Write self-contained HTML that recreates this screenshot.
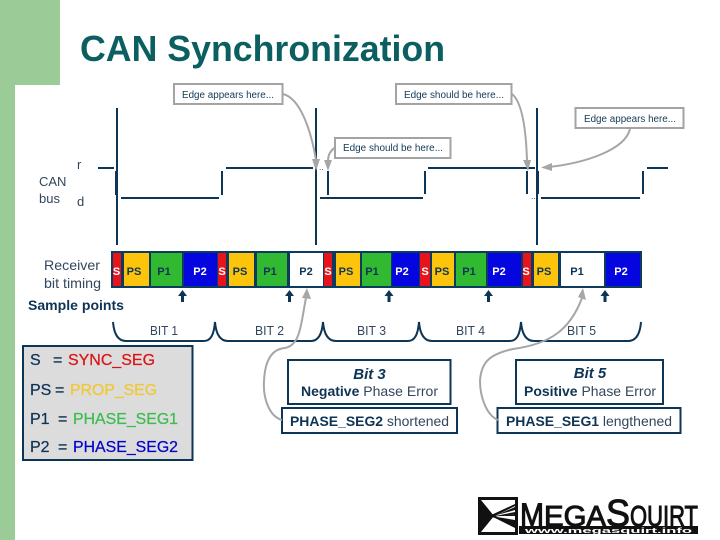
<!DOCTYPE html>
<html><head><meta charset="utf-8">
<style>
html,body{margin:0;padding:0;background:#fff}
svg{display:block}
text{font-family:"Liberation Sans",sans-serif;fill:#0e3455}
.g{fill:none;stroke:#a6a6a6;stroke-width:2}
.n{stroke:#0c3556;stroke-width:2;fill:none}
.c{fill:#fff;stroke:#a3a3a3;stroke-width:2}
.ct{font-size:10px;fill:#123a55}
.lab{font-size:13px;fill:#33475c}
.lab2{font-size:14px;fill:#33475c}
.seg{font-size:11px;font-weight:bold;text-anchor:middle;fill:#0e3455}
.bit{font-size:12.500px;fill:#33475c}
.lg{font-size:16px;stroke:currentColor;stroke-width:0.25}
.lo{fill:#111;stroke:#111;stroke-width:1}
</style></head><body>
<svg width="720" height="540" viewBox="0 0 720 540" xmlns="http://www.w3.org/2000/svg">
<rect x="0" y="0" width="60" height="85" fill="#9bcb97"/>
<rect x="0" y="85" width="15" height="455" fill="#9bcb97"/>
<text x="80" y="61" font-size="36" font-weight="bold" style="fill:#0b5f60" textLength="365" lengthAdjust="spacingAndGlyphs">CAN Synchronization</text>

<!-- waveform -->
<g class="n">
<path d="M117 108V245M316 108V245M537 108V245"/>
<path d="M98 168H114M226 168H313M428 168H535M647 168H668"/>
<path d="M121 198H219M320 198H423M541 198H640"/>
<path d="M116 171V195M222 171V195M316 171V195M328 171V195M425 171V194M527 171V194M538 171V194M643 171V194"/>
</g>
<text x="77" y="169" class="lab">r</text>
<text x="39" y="186" class="lab">CAN</text>
<text x="39" y="203" class="lab">bus</text>
<text x="77" y="206" class="lab">d</text>
<text x="319" y="170" font-size="8">..</text>
<text x="531" y="199" font-size="8">...</text>

<!-- callouts -->
<rect class="c" x="174" y="84" width="108.500" height="20"/>
<text x="182" y="98" class="ct" textLength="92" lengthAdjust="spacingAndGlyphs">Edge appears here...</text>
<rect class="c" x="396" y="84" width="115.500" height="20"/>
<text x="404" y="98" class="ct" textLength="100" lengthAdjust="spacingAndGlyphs">Edge should be here...</text>
<rect class="c" x="575.500" y="108" width="108" height="20"/>
<text x="584" y="122" class="ct" textLength="92" lengthAdjust="spacingAndGlyphs">Edge appears here...</text>
<rect class="c" x="335" y="138" width="115.500" height="20"/>
<text x="343" y="151" class="ct" textLength="100" lengthAdjust="spacingAndGlyphs">Edge should be here...</text>

<!-- gray arrows -->
<path class="g" d="M283 94C300 98 311 130 316 160"/>
<path fill="#a6a6a6" d="M316 171L312 159L320 159Z"/>
<path class="g" d="M334.500 148C330 151 328 155 328 161"/>
<path fill="#a6a6a6" d="M328 171L324 160L332 160Z"/>
<path class="g" d="M512 94C522 102 526 130 527 160"/>
<path fill="#a6a6a6" d="M528 171L523 160L531 160Z"/>
<path class="g" d="M630 129C625 150 585 163 549 167"/>
<path fill="#a6a6a6" d="M541 167.500L552 163L552 171Z"/>

<!-- bit timing bar -->
<rect x="111" y="251" width="531" height="37" fill="#0d3a5f"/>
<g>
<rect x="113" y="253" width="8" height="33" fill="#e8141c"/>
<rect x="124" y="253" width="25" height="33" fill="#fdc40c"/>
<rect x="151" y="253" width="31" height="33" fill="#32b932"/>
<rect x="184" y="253" width="33" height="33" fill="#0505e0"/>
<rect x="218" y="253" width="8" height="33" fill="#e8141c"/>
<rect x="229" y="253" width="25" height="33" fill="#fdc40c"/>
<rect x="257" y="253" width="30" height="33" fill="#32b932"/>
<rect x="290" y="253" width="33" height="33" fill="#fff"/>
<rect x="324" y="253" width="8" height="33" fill="#e8141c"/>
<rect x="336" y="253" width="24" height="33" fill="#fdc40c"/>
<rect x="362" y="253" width="29" height="33" fill="#32b932"/>
<rect x="392" y="253" width="27" height="33" fill="#0505e0"/>
<rect x="420" y="253" width="10" height="33" fill="#e8141c"/>
<rect x="432" y="253" width="22" height="33" fill="#fdc40c"/>
<rect x="456" y="253" width="30" height="33" fill="#32b932"/>
<rect x="488" y="253" width="33" height="33" fill="#0505e0"/>
<rect x="523" y="253" width="8" height="33" fill="#e8141c"/>
<rect x="534" y="253" width="24" height="33" fill="#fdc40c"/>
<rect x="561" y="253" width="43" height="33" fill="#fff"/>
<rect x="606" y="253" width="34" height="33" fill="#0505e0"/>
</g>
<g>
<text x="116.500" y="275" class="seg" style="fill:#fff">S</text><text x="134" y="275" class="seg">PS</text><text x="164" y="275" class="seg">P1</text><text x="200" y="275" class="seg" style="fill:#fff">P2</text>
<text x="222" y="275" class="seg" style="fill:#fff">S</text><text x="240" y="275" class="seg">PS</text><text x="270" y="275" class="seg">P1</text><text x="306" y="275" class="seg">P2</text>
<text x="328" y="275" class="seg" style="fill:#fff">S</text><text x="346" y="275" class="seg">PS</text><text x="372" y="275" class="seg">P1</text><text x="402" y="275" class="seg" style="fill:#fff">P2</text>
<text x="425" y="275" class="seg" style="fill:#fff">S</text><text x="442" y="275" class="seg">PS</text><text x="469" y="275" class="seg">P1</text><text x="499" y="275" class="seg" style="fill:#fff">P2</text>
<text x="526" y="275" class="seg" style="fill:#fff">S</text><text x="544" y="275" class="seg">PS</text><text x="577" y="275" class="seg">P1</text><text x="621" y="275" class="seg" style="fill:#fff">P2</text>
</g>
<text x="44" y="270" class="lab2" textLength="56" lengthAdjust="spacingAndGlyphs">Receiver</text>
<text x="44" y="288" class="lab2" textLength="57" lengthAdjust="spacingAndGlyphs">bit timing</text>
<text x="28" y="310" font-size="14" font-weight="bold" textLength="96" lengthAdjust="spacingAndGlyphs">Sample points</text>

<!-- sample arrows -->
<g fill="#0c3556">
<path d="M182.500 290L187 296H184V302H181V296H178Z"/>
<path d="M289.500 290L294 296H291V302H288V296H285Z"/>
<path d="M389 290L393.500 296H390.500V302H387.500V296H384.500Z"/>
<path d="M488.500 290L493 296H490V302H487V296H484Z"/>
<path d="M605 290L609.500 296H606.500V302H603.500V296H600.500Z"/>
</g>

<!-- braces -->
<path class="n" d="M113 322C114 334 118 341 126 341H204C211 341 214 334 215 322C216 334 220 341 228 341H311C318 341 322 334 323 322C324 334 328 341 336 341H408C415 341 418 334 419 322C420 334 424 341 432 341H510C517 341 520 334 521 322C522 334 526 341 534 341H628C636 341 640 334 641 322"/>
<text x="150" y="335" class="bit" textLength="28" lengthAdjust="spacingAndGlyphs">BIT 1</text>
<text x="255" y="335" class="bit" textLength="29" lengthAdjust="spacingAndGlyphs">BIT 2</text>
<text x="357" y="335" class="bit" textLength="29" lengthAdjust="spacingAndGlyphs">BIT 3</text>
<text x="456" y="335" class="bit" textLength="29" lengthAdjust="spacingAndGlyphs">BIT 4</text>
<text x="567" y="335" class="bit" textLength="29" lengthAdjust="spacingAndGlyphs">BIT 5</text>

<!-- legend -->
<rect x="23" y="346" width="169.500" height="114" fill="#dcdcdc" stroke="#0c3556" stroke-width="2"/>
<g color="#0e3455">
<text x="30" y="365" class="lg">S</text><text x="53" y="365" class="lg">=</text>
<text x="30" y="395" class="lg">PS</text><text x="55" y="395" class="lg">=</text>
<text x="30" y="424" class="lg">P1</text><text x="58" y="424" class="lg">=</text>
<text x="30" y="452" class="lg">P2</text><text x="58" y="452" class="lg">=</text>
</g>
<text x="68" y="365" class="lg" color="#dc1414" style="fill:#dc1414" textLength="87" lengthAdjust="spacingAndGlyphs">SYNC_SEG</text>
<text x="70" y="395" class="lg" color="#f0c832" style="fill:#f0c832" textLength="87" lengthAdjust="spacingAndGlyphs">PROP_SEG</text>
<text x="73" y="424" class="lg" color="#3cbc50" style="fill:#3cbc50" textLength="105" lengthAdjust="spacingAndGlyphs">PHASE_SEG1</text>
<text x="73" y="452" class="lg" color="#0505c8" style="fill:#0505c8" textLength="105" lengthAdjust="spacingAndGlyphs">PHASE_SEG2</text>

<!-- boxes -->
<rect x="288" y="360" width="162.500" height="44" fill="#fff" stroke="#0c3556" stroke-width="2"/>
<text x="369.500" y="379" font-size="15" font-weight="bold" font-style="italic" text-anchor="middle">Bit 3</text>
<text x="301" y="396" font-size="14" textLength="137" lengthAdjust="spacingAndGlyphs"><tspan font-weight="bold">Negative</tspan><tspan style="fill:#33475c"> Phase Error</tspan></text>
<rect x="282" y="408" width="175" height="25" fill="#fff" stroke="#0c3556" stroke-width="2"/>
<text x="290" y="426" font-size="14" textLength="159" lengthAdjust="spacingAndGlyphs"><tspan font-weight="bold">PHASE_SEG2</tspan><tspan style="fill:#33475c"> shortened</tspan></text>

<rect x="516" y="360" width="147" height="44" fill="#fff" stroke="#0c3556" stroke-width="2"/>
<text x="590" y="378" font-size="15" font-weight="bold" font-style="italic" text-anchor="middle">Bit 5</text>
<text x="524" y="396" font-size="14" textLength="132" lengthAdjust="spacingAndGlyphs"><tspan font-weight="bold">Positive</tspan><tspan style="fill:#33475c"> Phase Error</tspan></text>
<rect x="497.500" y="408" width="183" height="25" fill="#fff" stroke="#0c3556" stroke-width="2"/>
<text x="506" y="426" font-size="14" textLength="166" lengthAdjust="spacingAndGlyphs"><tspan font-weight="bold">PHASE_SEG1</tspan><tspan style="fill:#33475c"> lengthened</tspan></text>

<!-- long gray curves -->
<path class="g" d="M282 420C268 416 263 396 264 381C265 360 272 349 285 348C301 345 301 322 306 298"/>
<path fill="#a6a6a6" d="M307 288L311 299L302 298Z"/>
<path class="g" d="M498 420C486 415 480 396 480 381C481 362 490 354 513 349C550 344 570 330 582 298"/>
<path fill="#a6a6a6" d="M583 288L586 300L578 297Z"/>

<!-- logo -->
<rect x="478" y="497" width="40" height="38" fill="#111"/>
<path fill="#fff" d="M481 500H515V507L497 515L515 510V514L498 516L515 516V520L497 517L515 526V532H481L494 516Z"/>
<path fill="#111" d="M489 516L515 504V506L495 516L515 512V514L496 516.500L515 524V528L495 518Z"/>
<text x="520" y="526" font-size="32" class="lo" textLength="24" lengthAdjust="spacingAndGlyphs">M</text>
<text x="544" y="526" font-size="29" class="lo" textLength="62" lengthAdjust="spacingAndGlyphs">EGA</text>
<text x="606" y="526" font-size="38" class="lo" textLength="24" lengthAdjust="spacingAndGlyphs">S</text>
<text x="630" y="526" font-size="29" class="lo" textLength="68" lengthAdjust="spacingAndGlyphs">QUIRT</text>
<rect x="519" y="526" width="179" height="8" fill="#111"/>
<text x="525" y="533" font-size="7.500" font-weight="bold" style="fill:#fff" textLength="167" lengthAdjust="spacingAndGlyphs">www.megasquirt.info</text>
</svg>
</body></html>
